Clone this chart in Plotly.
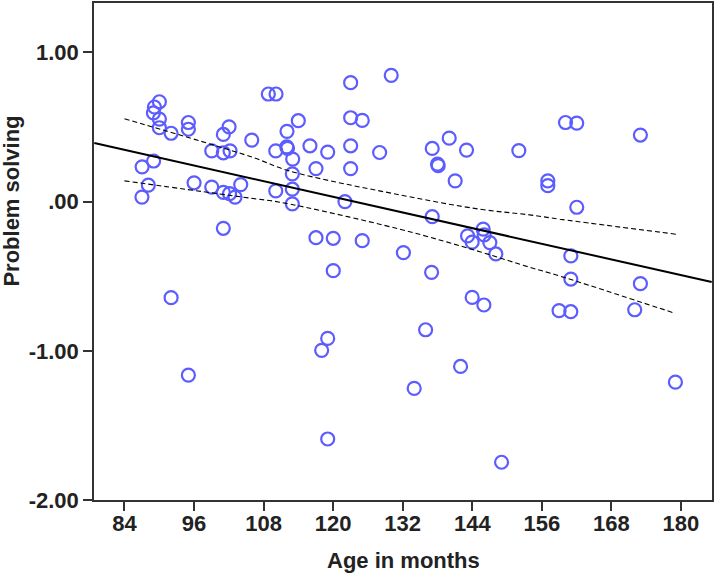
import plotly.graph_objects as go

# Scatter data: age in months vs problem solving score
age_months = [
    90.03, 89.17, 89.0, 90.03, 90.03, 92.05, 95.03, 95.03, 108.82, 110.15,
    113.99, 102.05, 101.06, 105.96, 112.04, 99.06, 101.06, 102.22, 110.1, 112.0,
    112.13, 113.02, 112.96, 112.96, 112.96, 87.05, 89.03, 88.12, 87.02, 96.01,
    99.06, 101.06, 102.13, 103.08, 104.06, 110.1, 101.06, 116.0, 117.04, 119.06,
    123.02, 123.02, 125.02, 123.02, 123.02, 128.02, 130.02, 122.04, 137.09, 140.02,
    143.01, 138.01, 138.12, 141.05, 137.09, 117.04, 120.02, 125.02, 132.12, 160.08,
    162.02, 173.0, 152.03, 157.03, 157.03, 162.02, 143.19, 143.98, 145.88, 146.05,
    147.03, 148.06, 161.0, 161.0, 173.0, 146.0, 158.97, 160.99, 172.02, 179.04,
    149.05, 120.02, 136.98, 143.98, 119.06, 118.02, 135.95, 141.98, 133.98, 119.06,
    92.05, 95.03,
]
problem_solving = [
    0.669, 0.634, 0.595, 0.553, 0.495, 0.458, 0.530, 0.485, 0.721, 0.721,
    0.542, 0.501, 0.450, 0.412, 0.471, 0.340, 0.327, 0.340, 0.340, 0.367,
    0.357, 0.285, 0.186, 0.083, -0.015, 0.233, 0.272, 0.110, 0.030, 0.126,
    0.097, 0.062, 0.053, 0.030, 0.114, 0.072, -0.179, 0.374, 0.221, 0.332,
    0.797, 0.562, 0.544, 0.374, 0.221, 0.329, 0.846, 0.000, 0.356, 0.425,
    0.345, 0.251, 0.241, 0.139, -0.101, -0.242, -0.246, -0.262, -0.342, 0.530,
    0.526, 0.446, 0.342, 0.139, 0.107, -0.038, -0.230, -0.272, -0.185, -0.223,
    -0.275, -0.351, -0.364, -0.519, -0.550, -0.693, -0.731, -0.738, -0.725, -1.210,
    -1.747, -0.463, -0.474, -0.642, -0.917, -0.997, -0.859, -1.105, -1.252, -1.591,
    -0.644, -1.163,
]

# Linear fit line (endpoints read at the plot edges)
fit_x = [78.8, 185.3]
fit_y = [0.392, -0.539]

# Confidence band readings
ci_upper_x = [84, 105.7, 112.5, 131.5, 145.3, 153.9, 159.1, 179.2]
ci_upper_y = [0.555, 0.302, 0.205, 0.045, -0.051, -0.089, -0.118, -0.219]
ci_lower_x = [84, 105.7, 110.8, 131.5, 145.3, 153.9, 159.1, 179.0]
ci_lower_y = [0.139, 0.023, -0.004, -0.185, -0.336, -0.440, -0.499, -0.749]

x_ticks = [84, 96, 108, 120, 132, 144, 156, 168, 180]
y_ticks = [1, 0, -1, -2]
y_tick_labels = ["1.00", ".00", "-1.00", "-2.00"]
x_title = "Age in months"
y_title = "Problem solving"

FONT = "Liberation Sans, Arial, sans-serif"
TXT = "#222222"
AX = "#333333"
FS = 22

fig = go.Figure()
fig.add_trace(go.Scatter(
    x=age_months, y=problem_solving, mode="markers",
    marker=dict(symbol="circle-open", size=13, color="rgb(92,92,255)",
                line=dict(width=2.2, color="rgb(92,92,255)")),
    showlegend=False, hoverinfo="x+y",
))
fig.add_trace(go.Scatter(
    x=ci_upper_x, y=ci_upper_y, mode="lines",
    line=dict(color="black", width=1.1, dash="5px,3px", shape="spline", smoothing=1.0),
    showlegend=False,
))
fig.add_trace(go.Scatter(
    x=ci_lower_x, y=ci_lower_y, mode="lines",
    line=dict(color="black", width=1.1, dash="5px,3px", shape="spline", smoothing=1.0),
    showlegend=False,
))
fig.add_trace(go.Scatter(
    x=fit_x, y=fit_y, mode="lines",
    line=dict(color="black", width=2),
    showlegend=False,
))

tickfont = dict(family=FONT, size=FS, color=TXT, weight="bold")
fig.update_layout(
    width=716, height=575,
    margin=dict(l=94, r=4, t=3, b=75),
    paper_bgcolor="white", plot_bgcolor="white",
    font=dict(family=FONT, color=TXT),
    xaxis=dict(
        range=[78.75, 185.35], tickvals=x_ticks, automargin=False,
        ticks="outside", ticklen=9, tickwidth=1.5, tickcolor=AX,
        ticklabelstandoff=-6,
        showline=True, linecolor=AX, linewidth=1.5, mirror=True,
        showgrid=False, zeroline=False, tickfont=tickfont,
    ),
    yaxis=dict(
        range=[-2.0, 1.331], tickvals=y_ticks, ticktext=y_tick_labels, automargin=False,
        ticks="outside", ticklen=9, tickwidth=1.5, tickcolor=AX,
        showline=True, linecolor=AX, linewidth=1.5, mirror=True,
        showgrid=False, zeroline=False, tickfont=tickfont,
    ),
    annotations=[
        dict(text=x_title, xref="paper", yref="paper", x=0.5, y=0,
             xanchor="center", yanchor="middle", yshift=-60, showarrow=False,
             font=dict(family=FONT, size=FS, color=TXT, weight="bold")),
        dict(text=y_title, xref="paper", yref="y", x=0, y=0,
             xanchor="center", yanchor="middle", xshift=-82, textangle=-90,
             showarrow=False,
             font=dict(family=FONT, size=FS, color=TXT, weight="bold")),
    ],
)

fig.write_html("out.html", config={"displayModeBar": False},
               post_script="document.body.style.margin='0';")
